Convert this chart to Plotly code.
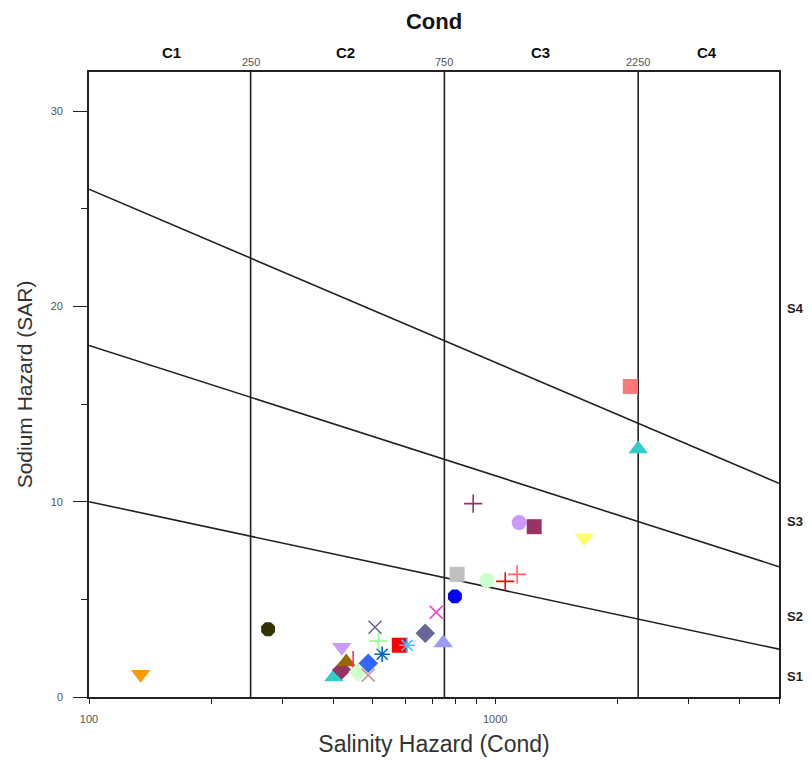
import plotly.graph_objects as go
import numpy as np

# ---- data ----
cond = [134, 276, 419, 401, 419, 430, 447, 460, 487, 487, 527, 516, 506, 581, 607,
        673, 745, 716, 796, 806, 955, 1059, 1133, 883, 1146, 1248, 1656, 2152, 2250]
sar = [1.17, 3.47, 2.55, 1.02, 1.38, 1.79, 1.89, 1.28, 1.12, 1.73, 2.19, 2.86, 3.57, 2.65, 2.65,
       3.27, 2.76, 4.34, 5.15, 6.28, 5.97, 5.92, 6.28, 9.9, 8.93, 8.72, 8.16, 15.9, 12.7]
symbols = ["triangle-down", "octagon", "triangle-down", "triangle-up", "diamond", "triangle-up",
           "line-ns-open", "diamond", "x-thin-open", "diamond", "asterisk-open", "cross-thin-open",
           "x-thin-open", "square", "asterisk-open", "diamond", "triangle-up", "x-thin-open",
           "octagon", "square", "circle", "cross-thin-open", "cross-thin-open", "cross-thin-open",
           "circle", "square", "triangle-down", "square", "triangle-up"]
colors = ["#FF9900", "#333300", "#CC99FF", "#33CCCC", "#993366", "#996600",
          "#FF3366", "#CCFFCC", "#CC9999", "#3366FF", "#0066CC", "#99FF99",
          "#666699", "#FF0000", "#33CCFF", "#666699", "#9999FF", "#FF33CC",
          "#0000FF", "#C0C0C0", "#CCFFCC", "#FF0000", "#FF6666", "#993366",
          "#CC99FF", "#993366", "#FFFF66", "#FF7777", "#33CCCC"]

# class boundaries
cond_bounds = [250, 750, 2250]
cond_bound_labels = ["250", "750", "2250"]
c_labels = ["C1", "C2", "C3", "C4"]
c_label_pos = [160, 428, 1291, 3327]
s_labels = ["S4", "S3", "S2", "S1"]
s_label_pos = [19.9, 9.0, 4.1, 1.07]
# SAR boundary lines: value at cond=100 and cond=5000
line_x = [100, 5000]
sar_lines = [[26.0, 10.94], [18.0, 6.67], [10.0, 2.45]]

x_ticks = [100, 200, 300, 400, 500, 600, 700, 800, 900, 1000, 2000, 3000, 4000, 5000]
x_ticktext = ["100", "", "", "", "", "", "", "", "", "1000", "", "", "", ""]
y_ticks = [0, 10, 20, 30]
y_ticktext = ["0", "10", "20", "30"]
y_minor = [5, 15, 25]

Y_MAX = 32

fig = go.Figure()

for xb in cond_bounds:
    fig.add_trace(go.Scatter(x=[xb, xb], y=[0, Y_MAX], mode="lines",
                             line=dict(color="#222", width=1.6), showlegend=False, hoverinfo="skip"))
for ln in sar_lines:
    fig.add_trace(go.Scatter(x=line_x, y=ln, mode="lines",
                             line=dict(color="#222", width=1.6), showlegend=False, hoverinfo="skip"))

for xv, yv, sym, col in zip(cond, sar, symbols, colors):
    is_open = sym.endswith("-open")
    if is_open:
        size = 13
    elif sym.startswith("triangle"):
        size = 17
    else:
        size = 15
    fig.add_trace(go.Scatter(
        x=[xv], y=[yv], mode="markers", showlegend=False,
        marker=dict(symbol=sym, color=col, size=size,
                    line=dict(color=col, width=1.6 if is_open else 0))))

ann = []
for lab, xp in zip(c_labels, c_label_pos):
    ann.append(dict(x=np.log10(xp), y=1, xref="x", yref="paper", yanchor="middle", yshift=20,
                    text="<b>" + lab + "</b>", showarrow=False,
                    font=dict(size=15, color="#111", family="Liberation Sans")))
for lab, xp in zip(cond_bound_labels, cond_bounds):
    ann.append(dict(x=np.log10(xp), y=1, xref="x", yref="paper", yanchor="middle", yshift=10,
                    text=lab, showarrow=False,
                    font=dict(size=11, color="#555", family="Liberation Sans Narrow, Liberation Sans")))
for lab, yp in zip(s_labels, s_label_pos):
    ann.append(dict(x=1, y=yp, xref="paper", yref="y", xanchor="center", xshift=16,
                    text="<b>" + lab + "</b>", showarrow=False,
                    font=dict(size=13, color="#222", family="Liberation Sans")))

# margins compensate for the 8px default page body margin
fig.update_layout(
    width=812, height=762,
    margin=dict(l=81, r=41, t=64, b=73),
    paper_bgcolor="white", plot_bgcolor="white",
    font=dict(family="Liberation Sans", color="#333"),
    title=dict(text="<b>Cond</b>", x=0.5, xanchor="center", xref="paper",
               y=1, yref="paper", yanchor="bottom", pad=dict(b=43),
               font=dict(size=22, color="#111")),
    annotations=ann,
    xaxis=dict(type="log", range=[2, np.log10(5000)], tickvals=x_ticks, ticktext=x_ticktext,
               ticks="outside", ticklen=5, tickcolor="#222", showgrid=False, zeroline=False,
               showline=True, linecolor="#222", linewidth=1.6, mirror=True, automargin=False,
               tickfont=dict(size=11, color="#555", family="Liberation Sans Narrow, Liberation Sans"),
               ticklabelstandoff=6,
               title=dict(text="Salinity Hazard (Cond)", font=dict(size=23, color="#333"), standoff=12)),
    yaxis=dict(range=[0, Y_MAX], tickvals=y_ticks, ticktext=y_ticktext,
               ticks="outside", ticklen=14, tickcolor="#222", showgrid=False, zeroline=False,
               showline=True, linecolor="#222", linewidth=1.6, mirror=True, automargin=False,
               minor=dict(tickvals=y_minor, ticklen=6, ticks="outside", tickcolor="#222"),
               tickfont=dict(size=11, color="#555", family="Liberation Sans Narrow, Liberation Sans"),
               ticklabelstandoff=8,
               title=dict(text="Sodium Hazard (SAR)", font=dict(size=21, color="#333"), standoff=12)),
)

fig.write_html("out.html")
